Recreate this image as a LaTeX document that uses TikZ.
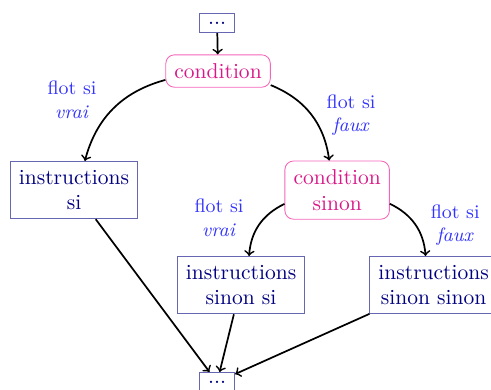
\documentclass[tikz,border=0pt]{standalone}
\usepackage{tikz}

\tikzset{
  instr/.style={draw=blue!50!black!60, text=blue!50!black, align=center, inner sep=4pt},
  test/.style={draw=magenta!60, text=magenta!90!black, rounded corners=4pt, align=center, inner sep=4pt},
  flot/.style={text=blue!80, align=center, font=\small},
  fleche/.style={->, thick}
}

\begin{document}
\begin{tikzpicture}
            \useasboundingbox (0,0) rectangle (8.02,-6.37);
            \node[instr] (debut) at (3.546,-0.376) {...};
            \node[test] (cond) at (3.562,-1.160) {condition};
            \node[instr] (si) at (1.209,-3.105) {instructions\\si};
            \node[test] (sinon) at (5.507,-3.105) {condition\\sinon};
            \node[instr] (sinonsi) at (3.938,-4.657) {instructions\\sinon si};
            \node[instr] (sinonsinon) at (7.083,-4.657) {instructions\\sinon sinon};
            \node[instr] (fin) at (3.546,-6.242) {...};

            \node[flot] (vrai1) at (1.176,-1.634) {flot si\\\textit{vrai}};
            \node[flot] (faux1) at (5.735,-1.879) {flot si\\\textit{faux}};
            \node[flot] (vrai2) at (3.578,-3.562) {flot si\\\textit{vrai}};
            \node[flot] (faux2) at (7.435,-3.676) {flot si\\\textit{faux}};

            \draw[fleche] (debut) -- (cond);
            \draw[fleche] (cond) to[bend right=30] (si);
            \draw[fleche] (cond) to[bend left=30] (sinon);
            \draw[fleche] (sinon) to[bend right=30] (sinonsi);
            \draw[fleche] (sinon) to[bend left=30] (sinonsinon);
            \draw[fleche] (si) -- (fin);
            \draw[fleche] (sinonsi) -- (fin);
            \draw[fleche] (sinonsinon) -- (fin);
        \end{tikzpicture}
\end{document}
